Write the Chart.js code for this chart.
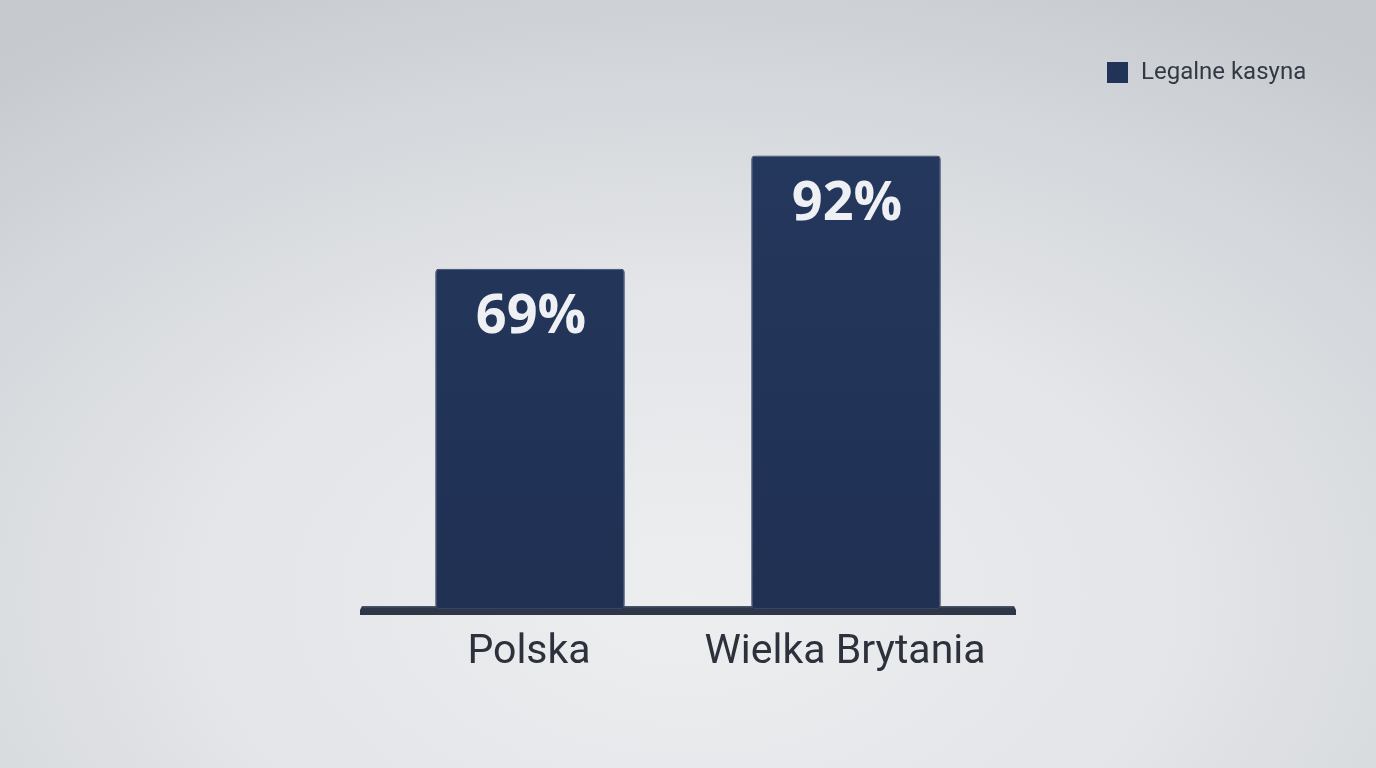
<!DOCTYPE html>
<html lang="pl">
<head>
<meta charset="utf-8">
<title>Legalne kasyna</title>
<script src="https://cdn.jsdelivr.net/npm/chart.js@4.4.1/dist/chart.umd.min.js"></script>
<style>
    html, body {
        margin: 0;
        padding: 0;
        width: 1376px;
        height: 768px;
        overflow: hidden;
    }
    body {
        background: radial-gradient(ellipse 80% 90% at 50% 78%, #eceef0 0%, #e3e5e8 45%, #d4d7db 75%, #c6cacf 100%);
    }
    #wrap {
        position: relative;
        width: 1376px;
        height: 768px;
    }
</style>
</head>
<body>
<div id="wrap"><canvas id="chart" width="1376" height="768"></canvas></div>
<script>
// dane z wykresu
const kraje = ['Polska', 'Wielka Brytania'];
const legalneKasyna = [69, 92];
const etykietaSerii = 'Legalne kasyna';

const kolorSlupka = '#213357';

// podstawa, etykiety, legenda
const dekoracje = {
    id: 'dekoracje',
    beforeDatasetsDraw(chart) {
        const { ctx } = chart;
        const x = chart.scales.x;
        const y = chart.scales.y;
        const y0 = y.getPixelForValue(0);
        const left = x.left - 12;
        const right = x.right + 12;
        ctx.save();
        // platforma pod slupkami
        ctx.fillStyle = '#2e3647';
        ctx.beginPath();
        ctx.moveTo(left + 2, y0 - 3);
        ctx.lineTo(right - 2, y0 - 3);
        ctx.lineTo(right, y0 + 1);
        ctx.lineTo(right, y0 + 6);
        ctx.lineTo(left, y0 + 6);
        ctx.lineTo(left, y0 + 1);
        ctx.closePath();
        ctx.fill();
        ctx.fillStyle = '#4a5466';
        ctx.fillRect(left + 2, y0 - 3, right - left - 4, 1.5);
        ctx.restore();
    },
    afterDatasetsDraw(chart) {
        const { ctx } = chart;
        const meta = chart.getDatasetMeta(0);
        const y = chart.scales.y;
        ctx.save();
        ctx.textAlign = 'center';
        ctx.textBaseline = 'middle';
        meta.data.forEach((bar, i) => {
            // wartosc w slupku
            ctx.fillStyle = '#eef0f4';
            ctx.font = 'bold 54px "Open Sans", "Noto Sans", sans-serif';
            ctx.fillText(legalneKasyna[i] + '%', bar.x + 1, bar.y + 49);
            // nazwa kraju pod slupkiem
            ctx.fillStyle = '#2c313b';
            ctx.font = '41px Roboto, "Noto Sans", sans-serif';
            ctx.fillText(kraje[i], bar.x - 1, y.getPixelForValue(0) + 44);
        });
        // legenda
        const ds = chart.data.datasets[0];
        ctx.fillStyle = kolorSlupka;
        ctx.fillRect(1107, 62, 21, 21);
        ctx.fillStyle = '#333944';
        ctx.textAlign = 'left';
        ctx.font = '24px Roboto, "Noto Sans", sans-serif';
        ctx.fillText(ds.label, 1141, 73);
        ctx.restore();
    }
};

const ctx = document.getElementById('chart').getContext('2d');
new Chart(ctx, {
    type: 'bar',
    data: {
        labels: kraje,
        datasets: [{
            label: etykietaSerii,
            data: legalneKasyna,
            backgroundColor: (c) => {
                const area = c.chart.chartArea;
                if (!area) return kolorSlupka;
                const g = c.chart.ctx.createLinearGradient(0, area.top, 0, area.bottom);
                g.addColorStop(0, '#25385d');
                g.addColorStop(1, '#1f3053');
                return g;
            },
            borderColor: '#33456a',
            borderWidth: 1,
            borderRadius: 4,
            borderSkipped: false,
            barPercentage: 1,
            categoryPercentage: 0.6
        }]
    },
    options: {
        responsive: false,
        animation: false,
        layout: {
            padding: { top: 116, bottom: 159, left: 372, right: 372 }
        },
        plugins: {
            legend: { display: false },
            tooltip: { enabled: false }
        },
        scales: {
            x: { display: false },
            y: { display: false, min: 0, max: 100 }
        }
    },
    plugins: [dekoracje]
});
</script>
</body>
</html>
